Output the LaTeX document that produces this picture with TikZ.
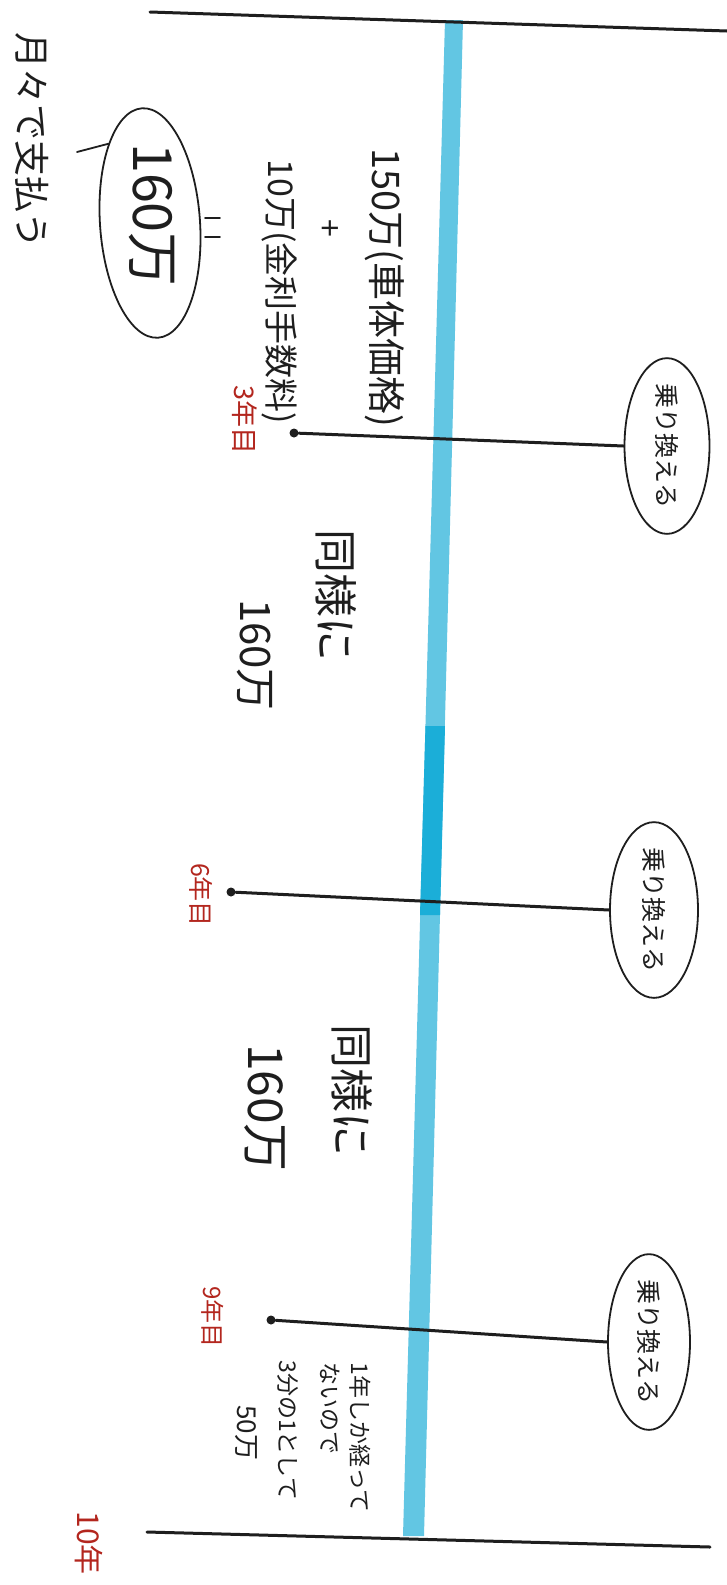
\documentclass[tikz,border=0pt]{standalone}
\usepackage{fontspec}
\newfontfamily\jp{Noto Sans CJK JP}
\usetikzlibrary{shapes.geometric}
\definecolor{redpen}{HTML}{B3261E}
\definecolor{band}{HTML}{62C6E3}
\definecolor{banddark}{HTML}{1BAED8}
\definecolor{ink}{HTML}{1E1E1E}
\tikzset{
  fs/.style={font=\jp\fontsize{#1}{#1}\selectfont},
  vt/.style={rotate=-90, inner sep=0pt, text=ink},
  redt/.style={vt, text=redpen},
  pen/.style={draw=ink, line width=1.5pt, line cap=round},
  thin pen/.style={draw=ink, line width=0.9pt, line cap=round},
  bubble/.style={ellipse, draw=ink, line width=0.9pt, inner sep=0pt, rotate=-90, text=ink},
  dot/.style={circle, fill=ink, inner sep=0pt, minimum size=4.5pt}
}
\begin{document}
\begin{tikzpicture}[x=0.5pt,y=-0.5pt]
\useasboundingbox (0,0) rectangle (727,1585);
\fill[white] (0,0) rectangle (727,1585);
% blue highlighter band
\fill[band] (445,20) -- (463,20) -- (424,1536) -- (403,1536) -- cycle;
\fill[banddark] (425.5,726) -- (445,726) -- (440,915) -- (420,915) -- cycle;
% top and bottom lines
\coordinate (tl) at (150,12);
\coordinate (tr) at (727,31);
\coordinate (bl) at (147,1532);
\coordinate (br) at (710,1547);
\draw[pen] (tl) -- (tr);
\draw[pen] (bl) -- (br);
% bubbles
\node[bubble, fs=12.5, minimum width=75.5pt, minimum height=42.5pt] (e1) at (667,446) {乗り換える};
\node[bubble, fs=12.5, minimum width=75pt, minimum height=44pt] (e2) at (654,910) {乗り換える};
\node[bubble, fs=12.5, minimum width=76pt, minimum height=41pt] (e3) at (649,1342) {乗り換える};
% ticks
\node[dot] (d1) at (294,433) {};
\node[dot] (d2) at (231,892) {};
\node[dot] (d3) at (271,1320) {};
\draw[pen] (d1) -- (e1.south);
\draw[pen] (d2) -- (e2.south);
\draw[pen] (d3) -- (e3.south);
% year labels
\node[redt, fs=13.5] (y3) at (245,420) {3年目};
\node[redt, fs=12.5] (y6) at (201,895) {6年目};
\node[redt, fs=12] (y9) at (213,1317) {9年目};
\node[redt, fs=15] (y10) at (89,1543) {10年};
% first block
\node[vt, fs=18] (pay) at (32,140) {月々で支払う};
\node[vt, fs=19] (p150) at (385,288) {150万(車体価格)};
\node[vt, fs=16] (plus) at (328,228) {+};
\node[vt, fs=17] (p10) at (279,292) {10万(金利手数料)};
\node[ellipse, draw=ink, line width=0.9pt, inner sep=0pt, rotate=-86, minimum width=115pt, minimum height=50pt] (b160) at (150,223) {};
\node[vt, fs=27] (t160) at (152,215) {160万};
\coordinate (s1) at (77,152);
\draw[thin pen] (s1) -- (b160.south west);
\coordinate (q1) at (205,218);
\coordinate (q2) at (220,218);
\coordinate (q3) at (205,237);
\coordinate (q4) at (220,237);
\draw[thin pen] (q1) -- (q2);
\draw[thin pen] (q3) -- (q4);
% second block
\node[vt, fs=22] (same1) at (336,595) {同様に};
\node[vt, fs=21] (v2) at (255,655) {160万};
% third block
\node[vt, fs=22] (same2) at (352,1090) {同様に};
\node[vt, fs=24] (v3) at (265,1108) {160万};
% fourth block
\node[vt, fs=11.5, anchor=west] (n1) at (360,1362) {1年しか経って};
\node[vt, fs=11.5, anchor=west] (n2) at (330,1362) {ないので};
\node[vt, fs=11.5, anchor=west] (n3) at (288,1360) {3分の1として};
\node[vt, fs=13, anchor=west] (n4) at (246,1405) {50万};
\end{tikzpicture}
\end{document}
